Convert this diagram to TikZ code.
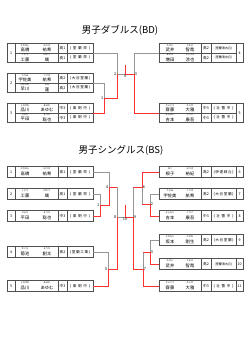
\documentclass[tikz,border=0pt]{standalone}
\usepackage{fontspec}
\setmainfont{Noto Sans CJK JP}
\usepackage{xcolor}
\usetikzlibrary{calc,positioning}
\definecolor{winred}{RGB}{255,50,50}
\definecolor{losegray}{RGB}{150,150,150}
\definecolor{boxline}{RGB}{80,80,80}
\tikzset{
    entrybox/.style={rectangle, draw=boxline, line width=0.5pt, inner sep=0pt, outer sep=0pt, anchor=west},
    cellline/.style={draw=boxline, line width=0.4pt},
    kana/.style={inner sep=0pt, font=\fontsize{2.2}{2.5}\selectfont},
    kanji/.style={inner sep=0pt, font=\fontsize{4.3}{5}\selectfont},
    celltxt/.style={inner sep=0pt, font=\fontsize{3.6}{4}\selectfont},
    mlabel/.style={inner sep=0.3pt, font=\fontsize{3.8}{4}\selectfont},
    title/.style={inner sep=0pt, font=\fontsize{9.5}{11}\selectfont},
    win/.style={draw=winred, line width=0.9pt},
    lose/.style={draw=losegray, line width=0.9pt},
}
\newcommand{\sch}[1]{\makebox[20pt][s]{#1}}
\newcommand{\schlong}[1]{{\fontsize{3.1}{3.5}\selectfont #1}}
% left box: number | names | grade | school
\newcommand{\lbox}[4]{%
    \node[entrybox, minimum width=86pt, minimum height=#4] (#1) at (7,#2) {};
    \foreach \dx in {8,51,60}
        \draw[cellline] ($(#1.north west)+(\dx,0)$) -- ($(#1.south west)+(\dx,0)$);
    \node[celltxt] (#1-no) at ($(#1.west)+(4,0)$) {#3};
}
% right box: names | grade | school | number
\newcommand{\rbox}[4]{%
    \node[entrybox, minimum width=84pt, minimum height=#4] (#1) at (159,#2) {};
    \foreach \dx in {42,52,77}
        \draw[cellline] ($(#1.north west)+(\dx,0)$) -- ($(#1.south west)+(\dx,0)$);
    \node[celltxt] (#1-no) at ($(#1.west)+(80.5,0)$) {#3};
}
\newcommand{\lrow}[9]{%
    \node[kana] (#1#2-ks) at ($(#1.west)+(18,#3-2.9)$) {#4};
    \node[kana] (#1#2-km) at ($(#1.west)+(40,#3-2.9)$) {#5};
    \node[kanji] (#1#2-s) at ($(#1.west)+(18,#3+1.7)$) {#6};
    \node[kanji] (#1#2-m) at ($(#1.west)+(40,#3+1.7)$) {#7};
    \node[celltxt] (#1#2-g) at ($(#1.west)+(55.5,#3)$) {#8};
    \node[celltxt] (#1#2-sc) at ($(#1.west)+(73,#3)$) {#9};
}
\newcommand{\rrow}[9]{%
    \node[kana] (#1#2-ks) at ($(#1.west)+(11,#3-2.9)$) {#4};
    \node[kana] (#1#2-km) at ($(#1.west)+(31,#3-2.9)$) {#5};
    \node[kanji] (#1#2-s) at ($(#1.west)+(11,#3+1.7)$) {#6};
    \node[kanji] (#1#2-m) at ($(#1.west)+(31,#3+1.7)$) {#7};
    \node[celltxt] (#1#2-g) at ($(#1.west)+(47,#3)$) {#8};
    \node[celltxt] (#1#2-sc) at ($(#1.west)+(64.5,#3)$) {#9};
}

\begin{document}
\begin{tikzpicture}[x=1pt, y=-1pt]
    \useasboundingbox (0,0) rectangle (250,353);
    \fill[white] (0,0) rectangle (250,353);

    % doubles
    \node[title] (tbd) at (120,30) {男子ダブルス(BD)};

    \lbox{d1}{53}{1}{19pt}
    \draw[cellline] ($(d1.west)+(8,0)$) -- (d1.east);
    \lrow{d1}{a}{-4.75}{たかはし}{ゆうき}{高橋}{祐希}{高1}{\sch{( 室 蘭 栄 )}}
    \lrow{d1}{b}{4.75}{くどう}{はやて}{工藤}{颯}{高1}{\sch{( 室 蘭 栄 )}}

    \lbox{d2}{83}{2}{19pt}
    \draw[cellline] ($(d2.west)+(8,0)$) -- (d2.east);
    \lrow{d2}{a}{-4.75}{うさみ}{こうき}{宇佐美}{航希}{高2}{\sch{( 大 谷 室 蘭 )}}
    \lrow{d2}{b}{4.75}{はやかわ}{れん}{早川}{蓮}{高2}{\sch{( 大 谷 室 蘭 )}}

    \lbox{d3}{113}{3}{19pt}
    \draw[cellline] ($(d3.west)+(8,0)$) -- (d3.east);
    \lrow{d3}{a}{-4.75}{しながわ}{あゆむ}{品川}{あゆむ}{中3}{\sch{( 東 明 中 )}}
    \lrow{d3}{b}{4.75}{ひらた}{そうや}{平田}{聡也}{中3}{\sch{( 東 明 中 )}}

    \rbox{d4}{53}{4}{19pt}
    \draw[cellline] (d4.west) -- ($(d4.west)+(77,0)$);
    \rrow{d4}{a}{-4.75}{たけい}{ともや}{武井}{智哉}{高2}{\schlong{(室蘭清水丘)}}
    \rrow{d4}{b}{4.75}{ますだ}{りょうや}{増田}{涼也}{高2}{\schlong{(室蘭清水丘)}}

    \rbox{d5}{113}{5}{19pt}
    \draw[cellline] (d5.west) -- ($(d5.west)+(77,0)$);
    \rrow{d5}{a}{-4.75}{さいとう}{たいが}{齋藤}{大雅}{中3}{\sch{( 壮 瞥 中 )}}
    \rrow{d5}{b}{4.75}{よしもと}{こうご}{吉本}{康吾}{中3}{\sch{( 壮 瞥 中 )}}

    \coordinate (dm1) at (104,98);
    \coordinate (dm2) at (117,74);
    \coordinate (dm3) at (134,74);
    \coordinate (dm6) at (125.5,74);

    \draw[lose] (d1.east) -| (dm2);
    \draw[lose] (d2.east) -| (dm1);
    \draw[lose] (d4.west) -| (dm3);
    \draw[lose] (dm2) -- (dm6);
    \draw[win] (d3.east) -| (dm1) -| (dm2);
    \draw[win] (d5.west) -| (dm3) -- (dm6) -- ++(0,-9);

    \node[mlabel, left=0.3pt of dm1] (dl1) {1};
    \node[mlabel, left=0.3pt of dm2] (dl2) {2};
    \node[mlabel, right=0.3pt of dm3] (dl3) {3};
    \node[mlabel, below=0.3pt of dm6] (dl6) {6};

    % singles
    \node[title] (tbs) at (121,150) {男子シングルス(BS)};

    \lbox{s1}{172}{1}{11pt}
    \lrow{s1}{a}{0}{たかはし}{ゆうき}{高橋}{祐希}{高1}{\sch{( 室 蘭 栄 )}}
    \lbox{s2}{194}{2}{11pt}
    \lrow{s2}{a}{0}{くどう}{はやて}{工藤}{颯}{高1}{\sch{( 室 蘭 栄 )}}
    \lbox{s3}{216}{3}{11pt}
    \lrow{s3}{a}{0}{ひらた}{そうや}{平田}{聡也}{中3}{\sch{( 東 明 中 )}}
    \lbox{s4}{252}{4}{11pt}
    \lrow{s4}{a}{0}{きくち}{そうた}{菊池}{創太}{高2}{\sch{( 室 蘭 工 業 )}}
    \lbox{s5}{286}{5}{11pt}
    \lrow{s5}{a}{0}{しながわ}{あゆむ}{品川}{あゆむ}{中3}{\sch{( 東 明 中 )}}

    \rbox{s6}{172}{6}{11pt}
    \rrow{s6}{a}{0}{ねこ}{ゆうき}{根子}{裕紀}{高2}{\sch{( 伊 達 緑 丘 )}}
    \rbox{s7}{194}{7}{11pt}
    \rrow{s7}{a}{0}{うさみ}{こうき}{宇佐美}{航希}{高2}{\sch{( 大 谷 室 蘭 )}}
    \rbox{s8}{216}{8}{11pt}
    \rrow{s8}{a}{0}{よしもと}{こうご}{吉本}{康吾}{中3}{\sch{( 壮 瞥 中 )}}
    \rbox{s9}{240}{9}{11pt}
    \rrow{s9}{a}{0}{さかもと}{たけお}{坂本}{剛生}{高2}{\sch{( 大 谷 室 蘭 )}}
    \rbox{s10}{264}{10}{11pt}
    \rrow{s10}{a}{0}{たけい}{ともや}{武井}{智哉}{高2}{\schlong{(室蘭清水丘)}}
    \rbox{s11}{286}{11}{11pt}
    \rrow{s11}{a}{0}{さいとう}{たいが}{齋藤}{大雅}{中3}{\sch{( 壮 瞥 中 )}}

    \coordinate (sm1) at (100,205);
    \coordinate (sm4) at (109,187);
    \coordinate (sm5) at (108,269);
    \coordinate (sm8) at (117,217);
    \coordinate (sm10) at (125,217);
    \coordinate (sm9) at (133,217);
    \coordinate (sm6) at (142,187);
    \coordinate (sm2) at (150,204);
    \coordinate (sm3) at (150,252);
    \coordinate (sm7) at (143,269);

    \draw[lose] (s1.east) -| (sm4);
    \draw[lose] (s2.east) -| (sm1);
    \draw[lose] (s4.east) -| (sm5);
    \draw[lose] (sm4 -| sm8) -- (sm8) -- (sm10);
    \draw[win] (s3.east) -| (sm1) -| (sm4) -- (sm4 -| sm8);
    \draw[win] (s5.east) -| (sm5) -| (sm8);

    \draw[lose] (s7.west) -| (sm2);
    \draw[lose] (s9.west) -| (sm3);
    \draw[lose] (sm2 -| sm6) -- (sm6);
    \draw[lose] (sm6 -| sm9) -- (sm9);
    \draw[lose] (sm3 -| sm7) -- (sm7);
    \draw[win] (s6.west) -| (sm6) -- (sm6 -| sm9);
    \draw[win] (s8.west) -| (sm2) -- (sm2 -| sm6);
    \draw[win] (s10.west) -| (sm3) -- (sm3 -| sm7);
    \draw[win] (s11.west) -| (sm7) -| (sm9) -- (sm10) -- ++(0,-12);

    \node[mlabel, left=0.3pt of sm1] (sl1) {1};
    \node[mlabel, left=0.3pt of sm4] (sl4) {4};
    \node[mlabel, left=0.3pt of sm5] (sl5) {5};
    \node[mlabel, left=0.3pt of sm8] (sl8) {8};
    \node[mlabel, below=0.3pt of sm10] (sl10) {10};
    \node[mlabel, right=0.3pt of sm9] (sl9) {9};
    \node[mlabel, right=0.3pt of sm6] (sl6) {6};
    \node[mlabel, right=0.3pt of sm2] (sl2) {2};
    \node[mlabel, right=0.3pt of sm3] (sl3) {3};
    \node[mlabel, right=0.3pt of sm7] (sl7) {7};
\end{tikzpicture}
\end{document}
